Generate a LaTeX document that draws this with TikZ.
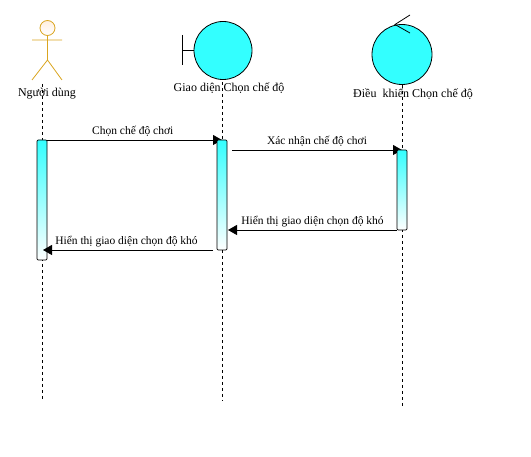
\documentclass[tikz,border=0pt]{standalone}
\usepackage{fontspec}
\setmainfont{Liberation Serif}
\usetikzlibrary{arrows.meta,backgrounds}
\definecolor{lifecyan}{HTML}{33FFFF}
\definecolor{actorgold}{HTML}{DAA520}
\definecolor{actorhead}{HTML}{FFEFE0}
\tikzset{
  actbox/.style={draw,rectangle,rounded corners=1.2pt,minimum width=10pt,inner sep=0pt,outer sep=0pt,top color=lifecyan,bottom color=white,middle color=lifecyan!50!white,line width=.7pt},
  lifeline/.style={line width=.7pt,dash pattern=on 3pt off 3pt},
  msg/.style={-{Triangle[length=9pt,width=10pt]},line width=.8pt},
  msgtext/.style={font=\fontsize{11.5}{13}\selectfont,inner sep=0pt},
  headtext/.style={font=\fontsize{12}{14}\selectfont,inner sep=0pt},
  actorline/.style={draw=actorgold,line width=.8pt},
  bigcircle/.style={draw,circle,fill=lifecyan,inner sep=0pt,line width=.8pt}
}
\begin{document}
\begin{tikzpicture}[x=1pt,y=1pt,node distance=180pt]
                \useasboundingbox (0,0) rectangle (531,-457);
                % activations
                \node[actbox,minimum height=120pt] (act1) at (42,-200) {};
                \node[actbox,minimum height=110pt] (act2) [right of=act1,yshift=5pt] {};
                \node[actbox,minimum height=80pt] (act3) [right of=act2,yshift=5pt] {};

                % lifeline ends
                \coordinate (top1) at (42,-84);
                \coordinate (top2) at (222,-82);
                \coordinate (top3) at (402,-85);
                \coordinate (end1) at (42,-401);
                \coordinate (end2) at (222,-401);
                \coordinate (end3) at (402,-406);
                \coordinate (from1) at (47,-140);
                \coordinate (from2) at (232,-150);
                \coordinate (from3) at (397,-230);
                \coordinate (from4) at (213,-250);
                \coordinate (to3) at (228,-230);
                \coordinate (to4) at (43,-250);

                % under the boxes
                \begin{scope}[on background layer]
                \draw[lifeline] (top1) -- (end1);
                \draw[lifeline] (top2) -- (end2);
                \draw[lifeline] (top3) -- (end3);
                \draw[msg] (from1) -- (act2.north) node[msgtext,pos=.49,above=3pt] (text1) {Chọn chế độ chơi};
                \draw[msg] (from2) -- (act3.north) node[msgtext,midway,above=3pt] (text2) {Xác nhận chế độ chơi};
                \end{scope}

                % actor
                \node[circle,actorline,top color=actorhead,bottom color=white,minimum size=15pt,inner sep=0pt] (head) at (47.5,-28) {};
                \coordinate (arm1) at (32,-40);
                \coordinate (arm2) at (62,-40);
                \coordinate (hip) at (47.5,-60);
                \coordinate (foot1) at (32,-80);
                \coordinate (foot2) at (62,-80);
                \draw[actorline] (head) -- (hip) (arm1) -- (arm2) (foot1) -- (hip) -- (foot2);

                % boundary
                \node[bigcircle,minimum size=58pt] (viewcircle) at (223,-50.5) {};
                \coordinate (bar1) at (182.5,-35);
                \coordinate (bar2) at (182.5,-65);
                \coordinate (barmid) at (182.5,-50.5);
                \draw[line width=.8pt] (bar1) -- (bar2) (barmid) -- (viewcircle);

                % control
                \node[bigcircle,minimum size=60pt] (ctrlcircle) at (402,-54.5) {};
                \coordinate (tip) at (395,-24.5);
                \coordinate (wing1) at (410,-15);
                \coordinate (wing2) at (410,-33);
                \draw[line width=.8pt] (wing1) -- (tip) -- (wing2);

                % names
                \node[headtext] (name1) at (47,-94) {Người dùng};
                \node[headtext] (name2) at (229,-88) {Giao diện Chọn chế độ};
                \node[headtext] (name3) at (413,-94) {Điều\ \ khiển Chọn chế độ};

                % over the boxes
                \draw[msg] (from3) -- (to3) node[msgtext,midway,above=3pt] (text3) {Hiển thị giao diện chọn độ khó};
                \draw[msg] (from4) -- (to4) node[msgtext,midway,above=3pt,xshift=-1.5pt] (text4) {Hiển thị giao diện chọn độ khó};
\end{tikzpicture}
\end{document}
